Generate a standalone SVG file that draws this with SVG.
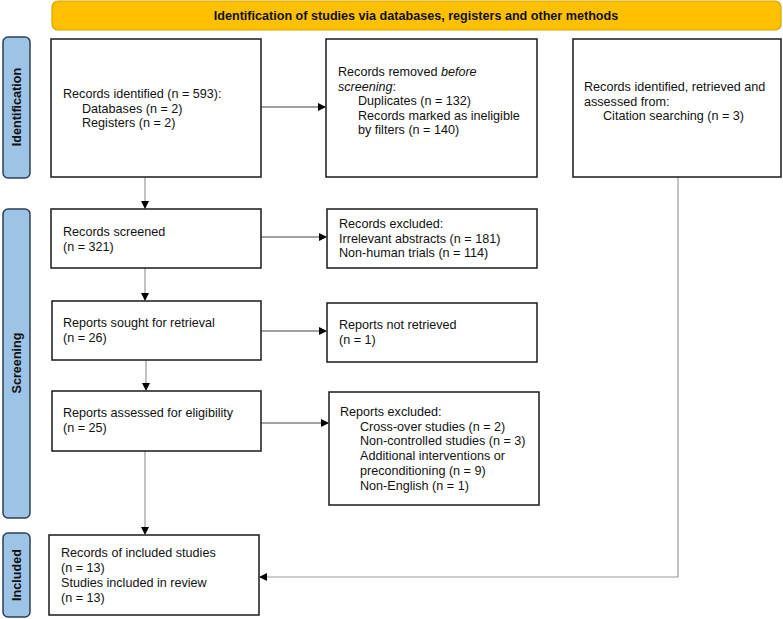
<svg xmlns="http://www.w3.org/2000/svg" width="783" height="619" viewBox="0 0 783 619">
<defs>
<marker id="ah" markerWidth="8" markerHeight="8" refX="7" refY="4" orient="auto" markerUnits="userSpaceOnUse">
<path d="M0,0 L8,4 L0,8 Z" fill="#000"/>
</marker>
<style>
.box{fill:#fff;stroke:#1a1a1a;stroke-width:1.5}
.t{font-family:"Liberation Sans",Arial,sans-serif;font-size:12.6px;fill:#111}
.b{font-weight:bold}
.side{fill:#9DC3E6;stroke:#2b3f55;stroke-width:1.5}
.c{fill:none;stroke:#444;stroke-width:1}
.cg{fill:none;stroke:#999;stroke-width:1.2}
</style>
</defs>
<rect width="783" height="619" fill="#fff"/>
<g id="banner">
<rect x="52" y="1" width="729" height="29" rx="6" fill="#FFC000" stroke="#D9A300" stroke-width="1.2"/>
<text class="t b" x="416" y="20" text-anchor="middle">Identification of studies via databases, registers and other methods</text>
</g>
<g id="lbl-identification">
<rect class="side" x="3" y="37" width="27" height="141" rx="5"/>
<text class="t b" transform="translate(21,107) rotate(-90)" text-anchor="middle">Identification</text>
</g>
<g id="lbl-screening">
<rect class="side" x="3" y="209" width="27" height="309" rx="5"/>
<text class="t b" transform="translate(21,363) rotate(-90)" text-anchor="middle">Screening</text>
</g>
<g id="lbl-included">
<rect class="side" x="3" y="533" width="27" height="84" rx="5"/>
<text class="t b" transform="translate(21,575) rotate(-90)" text-anchor="middle">Included</text>
</g>
<g id="connectors">
<line class="c" x1="261" y1="107" x2="325" y2="107" marker-end="url(#ah)"/>
<line class="cg" x1="145" y1="177" x2="145" y2="208" marker-end="url(#ah)"/>
<line class="c" x1="261" y1="237" x2="326" y2="237" marker-end="url(#ah)"/>
<line class="cg" x1="145" y1="268" x2="145" y2="300" marker-end="url(#ah)"/>
<line class="c" x1="261" y1="331" x2="326" y2="331" marker-end="url(#ah)"/>
<line class="cg" x1="146" y1="360" x2="146" y2="390" marker-end="url(#ah)"/>
<line class="c" x1="261" y1="423" x2="328" y2="423" marker-end="url(#ah)"/>
<line class="cg" x1="145" y1="451" x2="145" y2="534" marker-end="url(#ah)"/>
<polyline class="cg" points="678,177 678,577 260,577" marker-end="url(#ah)"/>
</g>
<g id="n-identified">
<rect class="box" x="51" y="39" width="210" height="138"/>
<text class="t" x="63" y="98">Records identified (n = 593):</text>
<text class="t" x="82" y="113">Databases (n = 2)</text>
<text class="t" x="82" y="127">Registers (n = 2)</text>
</g>
<g id="n-removed">
<rect class="box" x="326" y="39" width="211" height="138"/>
<text class="t" x="338" y="76">Records removed <tspan font-style="italic">before</tspan></text>
<text class="t" x="338" y="91"><tspan font-style="italic">screening</tspan>:</text>
<text class="t" x="358" y="105">Duplicates (n = 132)</text>
<text class="t" x="358" y="120">Records marked as ineligible</text>
<text class="t" x="358" y="134">by filters (n = 140)</text>
</g>
<g id="n-citation">
<rect class="box" x="573" y="39" width="208" height="138"/>
<text class="t" x="584" y="91">Records identified, retrieved and</text>
<text class="t" x="584" y="106">assessed from:</text>
<text class="t" x="603" y="120">Citation searching (n = 3)</text>
</g>
<g id="n-screened">
<rect class="box" x="51" y="209" width="210" height="59"/>
<text class="t" x="63" y="236">Records screened</text>
<text class="t" x="63" y="251">(n = 321)</text>
</g>
<g id="n-excluded">
<rect class="box" x="327" y="209" width="210" height="59"/>
<text class="t" x="339" y="228">Records excluded:</text>
<text class="t" x="339" y="243">Irrelevant abstracts (n = 181)</text>
<text class="t" x="339" y="257">Non-human trials (n = 114)</text>
</g>
<g id="n-sought">
<rect class="box" x="52" y="301" width="209" height="59"/>
<text class="t" x="63" y="327">Reports sought for retrieval</text>
<text class="t" x="63" y="342">(n = 26)</text>
</g>
<g id="n-notretrieved">
<rect class="box" x="327" y="303" width="210" height="59"/>
<text class="t" x="339" y="329">Reports not retrieved</text>
<text class="t" x="339" y="344">(n = 1)</text>
</g>
<g id="n-assessed">
<rect class="box" x="52" y="391" width="209" height="60"/>
<text class="t" x="63" y="417">Reports assessed for eligibility</text>
<text class="t" x="63" y="432">(n = 25)</text>
</g>
<g id="n-reportsexcluded">
<rect class="box" x="329" y="392" width="210" height="113"/>
<text class="t" x="340" y="416">Reports excluded:</text>
<text class="t" x="360" y="431">Cross-over studies (n = 2)</text>
<text class="t" x="360" y="445">Non-controlled studies (n = 3)</text>
<text class="t" x="360" y="460">Additional interventions or</text>
<text class="t" x="360" y="475">preconditioning (n = 9)</text>
<text class="t" x="360" y="490">Non-English (n = 1)</text>
</g>
<g id="n-included">
<rect class="box" x="49" y="535" width="210" height="80"/>
<text class="t" x="61" y="557">Records of included studies</text>
<text class="t" x="61" y="572">(n = 13)</text>
<text class="t" x="61" y="587">Studies included in review</text>
<text class="t" x="61" y="602">(n = 13)</text>
</g>
</svg>
